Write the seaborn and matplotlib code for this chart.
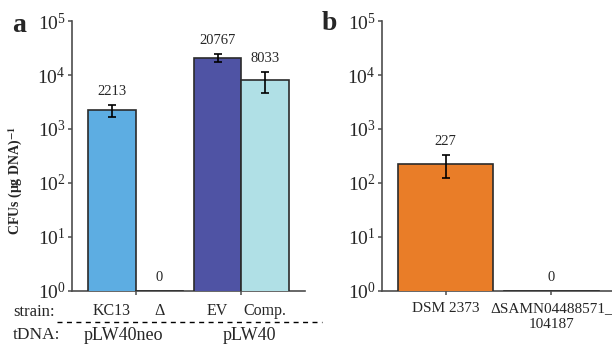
import numpy as np
import pandas as pd
import matplotlib
matplotlib.use('Agg')
import matplotlib.pyplot as plt
import matplotlib.transforms as mtransforms
from matplotlib.lines import Line2D
import seaborn as sns

# panel a: transformation efficiency per strain / tDNA
A_GROUPS = ['pLW40neo', 'pLW40']
A_STRAINS = ['KC13', 'Δ', 'EV', 'Comp.']
A_SLOT = ['first', 'second', 'first', 'second']
A_TDNA = ['pLW40neo', 'pLW40neo', 'pLW40', 'pLW40']
A_CFU = [2213, 0, 20767, 8033]
A_ERR = [550, 0, 3700, 3450]
A_COLORS = ['#5DADE2', '#5DADE2', '#4F53A4', '#B0E0E6']

# panel b
B_STRAINS = ['DSM 2373', 'ΔSAMN04488571_\n104187']
B_CFU = [227, 0]
B_ERR = [105, 0]
B_COLORS = ['#E97D28', '#E97D28']

sns.set_style('ticks')
plt.rcParams['font.family'] = ['Liberation Serif', 'DejaVu Serif']
plt.rcParams['mathtext.fontset'] = 'stix'

SPINE = '#4d4d4d'
EDGE = '#2b2b2b'
W, H = 612, 347

fig = plt.figure(figsize=(W / 100, H / 100), dpi=100)
ax_a = fig.add_axes([72 / W, 56 / H, 233 / W, 270 / H])
ax_b = fig.add_axes([382 / W, 56 / H, 233 / W, 270 / H])


def style_axis(ax):
    ax.set_yscale('log')
    ax.set_ylim(1, 1e5)
    ax.set_xlim(-0.6, 1.6)
    ax.yaxis.set_major_locator(matplotlib.ticker.LogLocator(base=10, numticks=10))
    ax.yaxis.set_minor_locator(matplotlib.ticker.NullLocator())
    sns.despine(ax=ax)
    for s in ['left', 'bottom']:
        ax.spines[s].set_color(SPINE)
        ax.spines[s].set_linewidth(1.2)
    ax.tick_params(axis='y', length=3, width=1.1, color=SPINE, labelsize=14, pad=1.5)
    ax.tick_params(axis='x', length=3, width=1.1, color=SPINE, labelsize=11, pad=5)
    ax.set_xlabel('')
    ax.set_ylabel('')
    # bars above the spine so zero-height bars show as a dark line
    for p in ax.patches:
        p.set_zorder(3)


def label_bar(ax, x, v, err):
    if err > 0:
        ax.errorbar(x, v, yerr=err, fmt='none', ecolor='black',
                    elinewidth=1.2, capsize=2.6, capthick=1.2, zorder=4)
    ax.annotate(str(v), (x, max(v + err, 1)), xytext=(0, 5),
                textcoords='offset points', ha='center', va='bottom', fontsize=10.5)


# ---- panel a
df_a = pd.DataFrame({'tdna': A_TDNA, 'slot': A_SLOT,
                     'cfu': np.maximum(A_CFU, 1)})
sns.barplot(data=df_a, x='tdna', y='cfu', hue='slot', order=A_GROUPS,
            hue_order=['first', 'second'], width=0.9, errorbar=None,
            edgecolor=EDGE, linewidth=1.2, legend=False, ax=ax_a)

bars = {}
for h, cont in zip(['first', 'second'], ax_a.containers):
    for g, bar in zip(A_GROUPS, cont):
        bars[(g, h)] = bar

trans_a = mtransforms.blended_transform_factory(ax_a.transData, ax_a.transAxes)
for i in range(len(A_STRAINS)):
    bar = bars[(A_TDNA[i], A_SLOT[i])]
    bar.set_facecolor(A_COLORS[i])
    x = bar.get_x() + bar.get_width() / 2
    label_bar(ax_a, x, A_CFU[i], A_ERR[i])
    ax_a.text(x, -0.075, A_STRAINS[i], transform=trans_a, ha='center',
              va='center', fontsize=11.5, clip_on=False)

style_axis(ax_a)
ax_a.set_xticks([0, 1])
ax_a.set_xticklabels([])
ax_a.set_ylabel('CFUs (μg DNA)$^{\\mathbf{-1}}$', fontweight='bold', fontsize=10)
ax_a.yaxis.set_label_coords(-0.2, 0.41)

# ---- panel b
df_b = pd.DataFrame({'strain': B_STRAINS, 'cfu': np.maximum(B_CFU, 1)})
sns.barplot(data=df_b, x='strain', y='cfu', hue='strain', palette=B_COLORS,
            saturation=1, width=0.9, errorbar=None, edgecolor=EDGE,
            linewidth=1.2, legend=False, ax=ax_b)
for i, bar in enumerate(ax_b.patches):
    x = bar.get_x() + bar.get_width() / 2
    label_bar(ax_b, x, B_CFU[i], B_ERR[i])
style_axis(ax_b)
for lab in ax_b.get_xticklabels():
    lab.set_linespacing(1.3)

# ---- annotation rows under panel a
fig.text(13 / W, 1 - 312 / H, 'strain:', fontsize=12, va='center', ha='left')
fig.text(13 / W, 1 - 335 / H, 'tDNA:', fontsize=12.5, va='center', ha='left')
fig.text(123 / W, 1 - 335 / H, A_GROUPS[0], fontsize=13, va='center', ha='center')
fig.text(249 / W, 1 - 335 / H, A_GROUPS[1], fontsize=13, va='center', ha='center')
fig.add_artist(Line2D([57 / W, 322 / W], [1 - 322 / H, 1 - 322 / H],
                      transform=fig.transFigure, color='black', lw=1,
                      linestyle=(0, (3.6, 3.2))))

fig.text(12 / W, 1 - 25 / H, 'a', fontsize=20, fontweight='bold', va='center')
fig.text(322 / W, 1 - 23 / H, 'b', fontsize=20, fontweight='bold', va='center')

fig.savefig('out.png', dpi=100)
